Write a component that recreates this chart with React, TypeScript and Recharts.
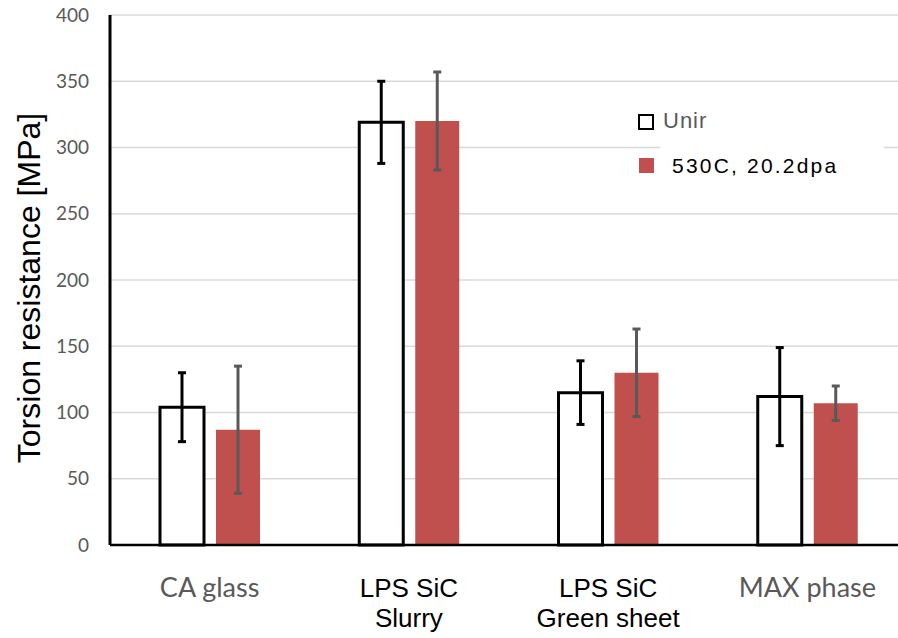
import React from "react";
import {
  BarChart,
  Bar,
  XAxis,
  YAxis,
  CartesianGrid,
  ErrorBar,
} from "recharts";

// valores
const categorias = ["CA glass", "LPS SiC\nSlurry", "LPS SiC\nGreen sheet", "MAX phase"];
const unir = [104, 319, 115, 112];
const unirErro = [26, 31, 24, 37];
const irradiado = [87, 320, 130, 107];
const irradiadoErro = [48, 37, 33, 13];
const yTicks = [0, 50, 100, 150, 200, 250, 300, 350, 400];
const rotulosCinza = ["CA glass", "MAX phase"];
const nomesSeries = ["Unir", "530C, 20.2dpa"];

const dados = categorias.map((cat, i) => ({
  cat,
  unir: unir[i],
  unirErro: unirErro[i],
  irr: irradiado[i],
  irrErro: irradiadoErro[i],
}));

const VERMELHO = "#C0504D";
const CINZA = "#595959";

function TickX(props: any) {
  const { x, y, payload } = props;
  const linhas = String(payload.value).split("\n");
  const cinza = rotulosCinza.includes(payload.value);
  return (
    <text
      x={x}
      y={y}
      textAnchor="middle"
      fill={cinza ? CINZA : "#000"}
      fontFamily={cinza ? "Lato, sans-serif" : "'Liberation Sans', Arial, sans-serif"}
      fontSize={cinza ? 27 : 26}
    >
      {linhas.map((l, i) => (
        <tspan key={i} x={x} dy={i === 0 ? 52 : 30}>
          {l}
        </tspan>
      ))}
    </text>
  );
}

// legenda sobreposta ao gráfico, com fundo branco cobrindo a grade
function Legenda() {
  return (
    <div style={{ position: "absolute", left: 630, top: 100, width: 254, height: 90 }}>
      <div style={{ position: "absolute", left: 30, top: 0, width: 224, height: 90, background: "#fff" }} />
      <div
        style={{
          position: "absolute",
          left: 8,
          top: 14,
          width: 12,
          height: 12,
          border: "2px solid #000",
          background: "#fff",
        }}
      />
      <div
        style={{
          position: "absolute",
          left: 33,
          top: 8,
          fontFamily: "'Liberation Sans', Arial, sans-serif",
          fontSize: 22,
          color: CINZA,
          letterSpacing: 1,
        }}
      >
        {nomesSeries[0]}
      </div>
      <div
        style={{ position: "absolute", left: 9, top: 58, width: 15, height: 15, background: VERMELHO }}
      />
      <div
        style={{
          position: "absolute",
          left: 42,
          top: 54,
          fontFamily: "'Liberation Sans', Arial, sans-serif",
          fontSize: 21,
          color: "#000",
          letterSpacing: 2.2,
          whiteSpace: "nowrap",
        }}
      >
        {nomesSeries[1]}
      </div>
    </div>
  );
}

export default function App() {
  return (
    <div style={{ position: "absolute", left: 0, top: 0, width: 898, height: 638, overflow: "hidden", background: "#fff" }}>
      <BarChart
        width={907}
        height={638}
        data={dados}
        margin={{ top: 15, right: 0, bottom: 3, left: 0 }}
        barSize={44}
        barGap={12}
      >
        <CartesianGrid vertical={false} stroke="#d9d9d9" strokeWidth={1.5} />
        <XAxis
          dataKey="cat"
          height={90}
          tick={<TickX />}
          tickLine={false}
          tickSize={0}
          tickMargin={0}
          interval={0}
          axisLine={{ stroke: "#000", strokeWidth: 2.5 }}
        />
        <YAxis
          width={110}
          domain={[0, 400]}
          ticks={yTicks}
          tickLine={false}
          tickSize={0}
          tickMargin={21}
          axisLine={{ stroke: "#000", strokeWidth: 3 }}
          tick={{ fill: CINZA, fontSize: 19, fontFamily: "Lato, sans-serif" }}
          label={(p: any) => {
            const vb = p.viewBox;
            const cy = vb.y + vb.height / 2 + 8;
            return (
              <text
                x={40}
                y={cy}
                transform={`rotate(-90 40 ${cy})`}
                textAnchor="middle"
                fontFamily="'Liberation Sans', Arial, sans-serif"
                fontSize={32}
                fill="#000"
              >
                Torsion resistance [MPa]
              </text>
            );
          }}
        />
        <Bar dataKey="unir" name={nomesSeries[0]} fill="#fff" stroke="#000" strokeWidth={3} isAnimationActive={false}>
          <ErrorBar dataKey="unirErro" width={4} stroke="#000" strokeWidth={3} isAnimationActive={false} />
        </Bar>
        <Bar dataKey="irr" name={nomesSeries[1]} fill={VERMELHO} isAnimationActive={false}>
          <ErrorBar dataKey="irrErro" width={4} stroke={CINZA} strokeWidth={3} isAnimationActive={false} />
        </Bar>
      </BarChart>
      <Legenda />
    </div>
  );
}
